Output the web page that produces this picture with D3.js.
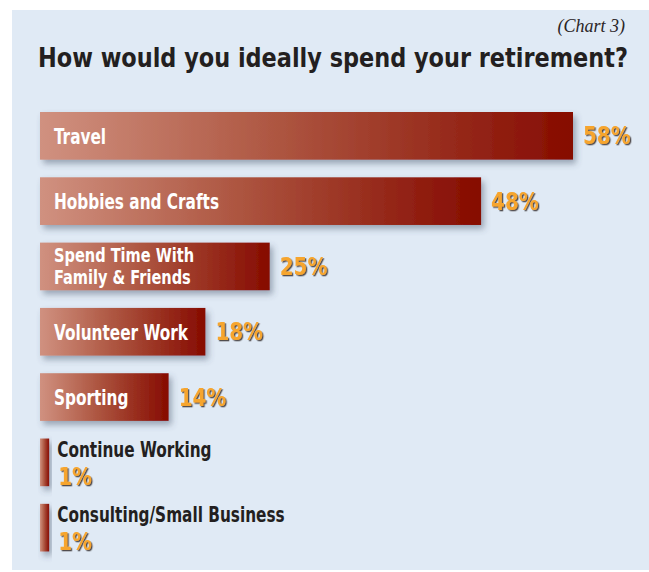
<!DOCTYPE html>
<html>
<head>
<meta charset="utf-8">
<script src="https://cdn.jsdelivr.net/npm/d3@7"></script>
<style>
  html, body { margin: 0; padding: 0; background: #ffffff; }
  svg { display: block; }
</style>
</head>
<body>
<svg id="chart" width="649" height="572"></svg>
<script>
// Survey answers, in display order
const categories = [
  "Travel",
  "Hobbies and Crafts",
  "Spend Time With\nFamily & Friends",
  "Volunteer Work",
  "Sporting",
  "Continue Working",
  "Consulting/Small Business"
];
const percents = [58, 48, 25, 18, 14, 1, 1];
const valueLabels = ["58%", "48%", "25%", "18%", "14%", "1%", "1%"];

const titleText = "How would you ideally spend your retirement?";
const chartTag = "(Chart 3)";

const rows = categories.map((c, i) => ({ name: c, value: percents[i], label: valueLabels[i] }));

const svg = d3.select("#chart");
const condensed = "'DejaVu Sans Condensed', 'Liberation Sans Narrow', sans-serif";
const squeeze = 0.83; // horizontal compression for the condensed face

// Shrink a text's advance width by a fixed factor
function narrow(sel, f) {
  sel.each(function() {
    const len = this.getComputedTextLength();
    d3.select(this).attr("textLength", len * f).attr("lengthAdjust", "spacingAndGlyphs");
  });
  return sel;
}

// Panel background
svg.append("rect")
  .attr("x", 12).attr("y", 10)
  .attr("width", 637).attr("height", 560)
  .attr("fill", "#e0eaf5");

const defs = svg.append("defs");

const grad = defs.append("linearGradient")
  .attr("id", "barGrad")
  .attr("x1", "0%").attr("x2", "100%").attr("y1", "0%").attr("y2", "0%");
grad.append("stop").attr("offset", "0%").attr("stop-color", "#d09180");
grad.append("stop").attr("offset", "45%").attr("stop-color", "#ad5540");
grad.append("stop").attr("offset", "100%").attr("stop-color", "#860b00");

const shadow = defs.append("filter").attr("id", "barShadow")
  .attr("x", "-20%").attr("y", "-20%").attr("width", "150%").attr("height", "160%");
shadow.append("feDropShadow")
  .attr("dx", 3).attr("dy", 4).attr("stdDeviation", 3)
  .attr("flood-color", "#3f4f66").attr("flood-opacity", 0.45);

const textShadow = defs.append("filter").attr("id", "pctShadow")
  .attr("x", "-20%").attr("y", "-20%").attr("width", "140%").attr("height", "150%");
textShadow.append("feDropShadow")
  .attr("dx", 1.3).attr("dy", 1.3).attr("stdDeviation", 0.4)
  .attr("flood-color", "#3a3330").attr("flood-opacity", 0.85);

// Title block
svg.append("text")
  .attr("x", 625).attr("y", 32)
  .attr("text-anchor", "end")
  .attr("font-family", "'Liberation Serif', 'DejaVu Serif', serif")
  .attr("font-style", "italic")
  .attr("font-size", 18)
  .attr("fill", "#2a2526")
  .text(chartTag);

const titleG = svg.append("g");
const title = titleG.append("text")
  .attr("x", 0).attr("y", 0)
  .attr("font-family", condensed)
  .attr("font-weight", "bold")
  .attr("font-size", 27)
  .attr("fill", "#231f20")
  .text(titleText);
const titleK = 590 / title.node().getComputedTextLength();
titleG.attr("transform", `translate(38,67) scale(${titleK},1)`);

// Scales
const x = d3.scaleLinear().domain([0, 58]).range([40, 573]);
const y = d3.scaleBand().domain(categories).range([112, 551.5]).paddingInner(0.27);

const g = svg.append("g");

const row = g.selectAll("g.row").data(rows).join("g").attr("class", "row");

row.append("rect")
  .attr("x", x(0))
  .attr("y", d => y(d.name))
  .attr("width", d => x(d.value) - x(0))
  .attr("height", y.bandwidth())
  .attr("fill", "url(#barGrad)")
  .attr("filter", "url(#barShadow)");

const labelSize = 20.5;
const pctSize = 24;

row.each(function(d) {
  const sel = d3.select(this);
  const top = y(d.name);
  const mid = top + y.bandwidth() / 2;
  const barEnd = x(d.value);
  const lines = d.name.split("\n");
  const inside = (barEnd - x(0)) > 60;

  const nameText = (tx, ty, str, color, size) => narrow(sel.append("text")
      .attr("x", tx).attr("y", ty)
      .attr("font-family", condensed)
      .attr("font-weight", "bold")
      .attr("font-size", size || labelSize)
      .attr("fill", color)
      .text(str), squeeze);

  const pctText = (tx, ty) => narrow(sel.append("text")
      .attr("x", tx).attr("y", ty)
      .attr("font-family", condensed)
      .attr("font-weight", "bold")
      .attr("font-size", pctSize)
      .attr("fill", "#f6a52e")
      .attr("filter", "url(#pctShadow)")
      .text(d.label), 0.92);

  if (inside) {
    if (lines.length === 1) {
      nameText(54, mid + 8, lines[0], "#ffffff");
    } else {
      nameText(54, mid - 4, lines[0], "#ffffff", 19.5);
      nameText(54, mid + 18, lines[1], "#ffffff", 19.5);
    }
    pctText(barEnd + 10, mid + 8.5);
  } else {
    nameText(barEnd + 8, top + 18, d.name, "#231f20");
    pctText(barEnd + 9, top + 46);
  }
});
</script>
</body>
</html>
